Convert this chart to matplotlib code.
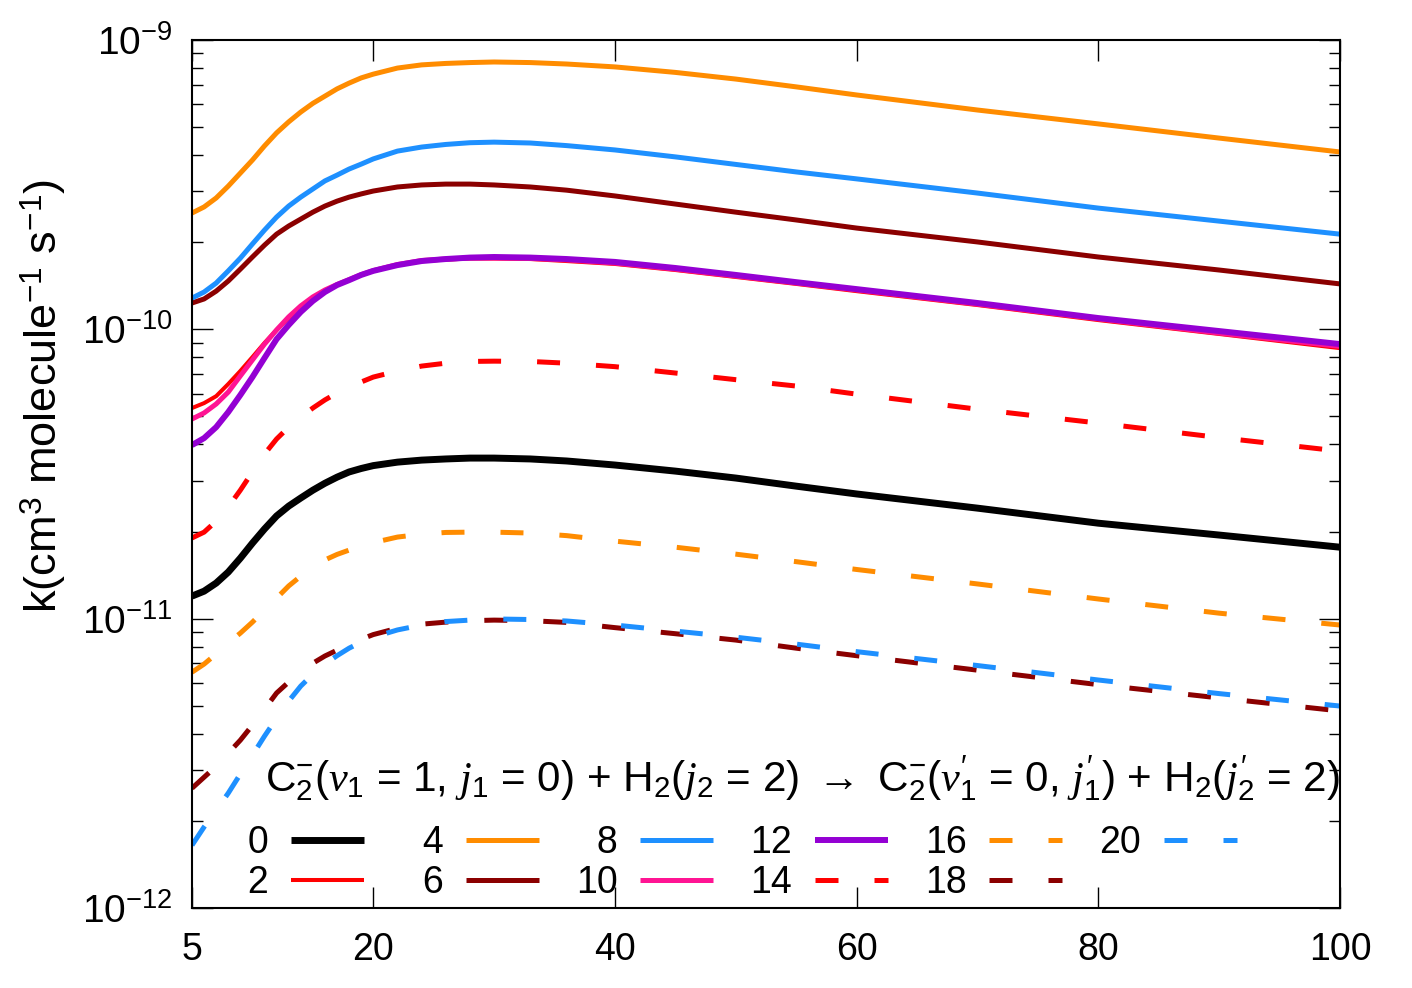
import numpy as np
import matplotlib
matplotlib.use("Agg")
import matplotlib.pyplot as plt
from matplotlib.ticker import NullFormatter, FixedLocator, LogFormatterSciNotation

plt.rcParams['font.family'] = ['Liberation Sans', 'DejaVu Sans']
plt.rcParams['mathtext.fontset'] = 'custom'
plt.rcParams['mathtext.rm'] = 'Liberation Sans'
plt.rcParams['mathtext.sf'] = 'Liberation Sans'
plt.rcParams['mathtext.it'] = 'Liberation Serif:italic'

# temperature grid (K)
T = [5, 6, 7, 8, 9, 10, 11, 12, 13, 14, 15, 16, 17, 18, 19, 20,
     22, 24, 26, 28, 30, 33, 36, 40, 45, 50, 55, 60, 70, 80, 90, 100]

# log10 of rate coefficient k (cm^3 molecule^-1 s^-1), one list per final j1'
lg_j0 = [-10.922, -10.905, -10.877, -10.839, -10.791, -10.739, -10.690, -10.645, -10.611, -10.583, -10.556,
         -10.532, -10.511, -10.493, -10.481, -10.471, -10.459, -10.452, -10.448, -10.445, -10.445, -10.448,
         -10.455, -10.469, -10.490, -10.514, -10.542, -10.569, -10.618, -10.670, -10.711, -10.753]
lg_j2 = [-10.272, -10.255, -10.231, -10.189, -10.144, -10.096, -10.047, -10.002, -9.961, -9.926, -9.892,
         -9.868, -9.847, -9.830, -9.812, -9.798, -9.778, -9.764, -9.759, -9.755, -9.755, -9.757,
         -9.764, -9.774, -9.795, -9.819, -9.843, -9.868, -9.916, -9.968, -10.016, -10.065]
lg_j4 = [-9.598, -9.577, -9.546, -9.505, -9.460, -9.415, -9.366, -9.321, -9.283, -9.249, -9.219,
         -9.194, -9.169, -9.149, -9.131, -9.118, -9.097, -9.086, -9.081, -9.078, -9.076, -9.078,
         -9.083, -9.093, -9.112, -9.135, -9.162, -9.190, -9.242, -9.290, -9.339, -9.387]
lg_j6 = [-9.909, -9.895, -9.868, -9.833, -9.792, -9.750, -9.709, -9.671, -9.643, -9.619, -9.595,
         -9.574, -9.557, -9.543, -9.532, -9.522, -9.508, -9.501, -9.498, -9.498, -9.501, -9.508,
         -9.519, -9.539, -9.567, -9.595, -9.622, -9.650, -9.698, -9.750, -9.795, -9.843]
lg_j8 = [-9.892, -9.871, -9.840, -9.798, -9.754, -9.705, -9.657, -9.612, -9.574, -9.543, -9.515,
         -9.487, -9.467, -9.446, -9.429, -9.411, -9.384, -9.370, -9.361, -9.355, -9.353, -9.356,
         -9.365, -9.380, -9.404, -9.430, -9.456, -9.480, -9.529, -9.581, -9.626, -9.671]
lg_j10 = [-10.310, -10.289, -10.258, -10.217, -10.161, -10.106, -10.051, -10.002, -9.957, -9.919, -9.888,
          -9.864, -9.845, -9.828, -9.811, -9.797, -9.776, -9.762, -9.757, -9.754, -9.754, -9.755,
          -9.760, -9.771, -9.792, -9.816, -9.840, -9.864, -9.913, -9.964, -10.013, -10.059]
lg_j12 = [-10.400, -10.376, -10.338, -10.286, -10.227, -10.165, -10.099, -10.034, -9.985, -9.940, -9.902,
          -9.871, -9.847, -9.830, -9.812, -9.798, -9.778, -9.764, -9.757, -9.752, -9.750, -9.752,
          -9.757, -9.767, -9.788, -9.812, -9.837, -9.861, -9.909, -9.961, -10.006, -10.051]
lg_j14 = [-10.721, -10.701, -10.663, -10.614, -10.556, -10.493, -10.431, -10.379, -10.338, -10.303, -10.272,
          -10.244, -10.220, -10.199, -10.182, -10.165, -10.144, -10.127, -10.117, -10.111, -10.110, -10.111,
          -10.117, -10.129, -10.151, -10.174, -10.196, -10.224, -10.276, -10.324, -10.374, -10.421]
lg_j16 = [-11.185, -11.157, -11.122, -11.084, -11.050, -11.012, -10.970, -10.929, -10.887, -10.853, -10.822,
          -10.797, -10.778, -10.763, -10.749, -10.737, -10.718, -10.708, -10.702, -10.701, -10.701, -10.704,
          -10.713, -10.732, -10.753, -10.777, -10.803, -10.830, -10.880, -10.932, -10.981, -11.022]
lg_j18 = [-11.586, -11.548, -11.510, -11.465, -11.420, -11.368, -11.313, -11.257, -11.219, -11.185, -11.154,
          -11.129, -11.109, -11.088, -11.071, -11.055, -11.033, -11.019, -11.012, -11.007, -11.005, -11.007,
          -11.013, -11.031, -11.052, -11.074, -11.102, -11.128, -11.178, -11.228, -11.274, -11.319]
lg_j20 = [-11.783, -11.720, -11.662, -11.603, -11.537, -11.472, -11.406, -11.344, -11.285, -11.233, -11.192,
          -11.157, -11.128, -11.102, -11.081, -11.064, -11.039, -11.022, -11.010, -11.005, -11.001, -11.003,
          -11.008, -11.022, -11.043, -11.064, -11.088, -11.114, -11.162, -11.212, -11.259, -11.302]

j_labels = ['0', '2', '4', '6', '8', '10', '12', '14', '16', '18', '20']
series = [lg_j0, lg_j2, lg_j4, lg_j6, lg_j8, lg_j10, lg_j12, lg_j14, lg_j16, lg_j18, lg_j20]
colors = ['black', '#ff0000', '#ff8c00', '#8b0000', '#1e90ff', '#ff1493', '#9400d3',
          '#ff0000', '#ff8c00', '#8b0000', '#1e90ff']
widths = [5.0, 2.9, 3.6, 3.6, 3.6, 3.6, 4.3, 3.6, 3.6, 3.6, 3.6]
dashed = [False] * 7 + [True] * 4

x_ticks = [5, 20, 40, 60, 80, 100]
y_decades = [1e-12, 1e-11, 1e-10, 1e-9]

fig = plt.figure(figsize=(14.12, 9.88), dpi=100)
ax = fig.add_axes([192 / 1412, 80 / 988, 1148 / 1412, 868 / 988])

handles = []
for lg, c, w, d in zip(series, colors, widths, dashed):
    line, = ax.plot(T, 10 ** np.array(lg), color=c, lw=w,
                    solid_capstyle='butt', solid_joinstyle='round')
    if d:
        line.set_dashes((4.6, 7.2))
        line.set_dash_capstyle('butt')
    handles.append(line)

ax.set_yscale('log')
ax.set_xlim(5, 100)
ax.set_ylim(y_decades[0], y_decades[-1])
ax.set_xticks(x_ticks)
ax.yaxis.set_major_locator(FixedLocator(y_decades))
ax.yaxis.set_major_formatter(LogFormatterSciNotation())
minor = [m * d for d in y_decades[:-1] for m in range(2, 10)]
ax.yaxis.set_minor_locator(FixedLocator(minor))
ax.yaxis.set_minor_formatter(NullFormatter())

ax.tick_params(which='both', direction='in', top=True, right=True, labelsize=27, width=1.0)
ax.tick_params(which='major', length=15)
ax.tick_params(which='minor', length=8)
ax.tick_params(axis='x', pad=17)
ax.tick_params(axis='y', pad=14, labelsize=28)
for s in ax.spines.values():
    s.set_linewidth(1.5)

ax.set_ylabel(r'k(cm$^3$ molecule$^{-1}$ s$^{-1}$)', fontsize=32.5)
ax.yaxis.set_label_coords(-0.108, 0.59)

# reaction title, gnuplot-style key below it
title = (r'C$_2^{-}$($v_1$ = 1, $j_1$ = 0) + H$_2$($j_2$ = 2) $\rightarrow$ '
         r"C$_2^{-}$($v_1'$ = 0, $j_1'$) + H$_2$($j_2'$ = 2)")
ax.text(0.0636, 0.150, title, transform=ax.transAxes, fontsize=30.4, va='center', ha='left')

# right-justify the key labels like gnuplot (figure space pads single digits)
key_labels = [lab.rjust(2, '\u2007') for lab in j_labels]
leg = ax.legend(handles, key_labels, ncol=6, loc='lower left', bbox_to_anchor=(0.0305, 0.008),
                frameon=False, markerfirst=False, fontsize=27,
                handlelength=1.95, handletextpad=0.6, columnspacing=0.99,
                labelspacing=0.10, borderpad=0, borderaxespad=0)

fig.savefig('out.png', dpi=100)
